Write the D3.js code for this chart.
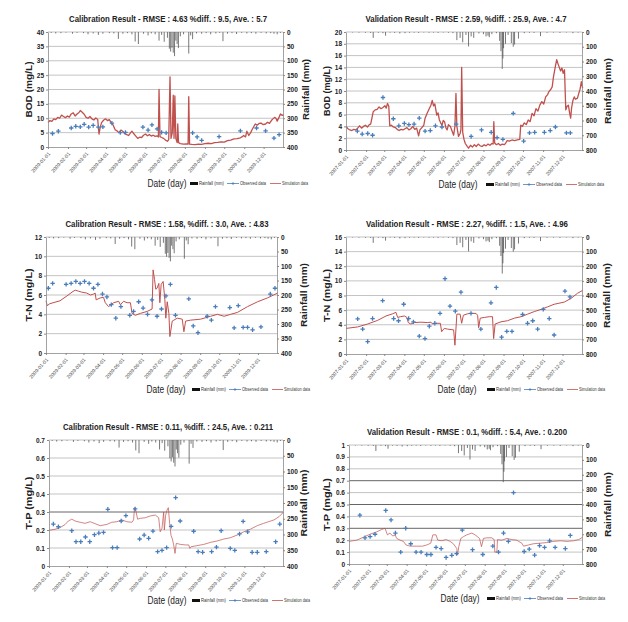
<!DOCTYPE html>
<html>
<head>
<meta charset="utf-8">
<script src="https://cdn.jsdelivr.net/npm/d3@7"></script>
<style>
  body { margin: 0; background: #fff; }
  text { font-family: "Liberation Sans", "DejaVu Sans", sans-serif; }
</style>
</head>
<body>
<script>
var svgWidth = 628;
var svgHeight = 622;

// rainfall, [day of year, mm]
var rain2009 = [[5,3],[12,5],[20,4],[28,2],[38,6],[45,3],[55,4],[62,8],[70,5],[78,10],[85,6],[95,4],[102,5],[109,24],[116,6],[123,4],[130,8],[135,33],[140,42],[148,6],[155,12],[160,5],[166,8],[172,30],[176,10],[180,34],[185,20],[188,58],[190,68],[192,55],[194,72],[196,84],[198,30],[200,42],[202,56],[205,15],[210,8],[218,75],[221,12],[224,25],[230,5],[238,6],[245,4],[252,8],[260,5],[266,3],[271,32],[278,6],[285,4],[292,7],[300,3],[308,5],[315,4],[322,6],[330,3],[338,5],[345,4],[350,6],[355,8],[360,3]];
var rain2007 = [[10,3],[20,4],[30,5],[38,6],[42,40],[50,5],[57,8],[61,25],[68,4],[75,6],[83,10],[91,8],[98,5],[105,4],[112,6],[120,3],[128,5],[135,4],[142,6],[150,3],[158,5],[165,8],[171,55],[176,40],[180,70],[185,20],[189,98],[193,30],[197,40],[205,10],[212,15],[216,30],[219,25],[221,35],[225,15],[232,8],[237,60],[239,130],[241,250],[242,180],[243,110],[246,80],[250,20],[255,75],[258,100],[260,85],[266,45],[275,8],[283,5],[290,6],[300,28],[310,5],[320,4],[330,6],[340,3],[350,8],[358,4]];

// BOD calibration 2009, [day, mg/L]
var bodCalSim = [[0,8.5],[3,9.2],[6,8.9],[9,9.8],[12,9.5],[15,10.3],[18,10.0],[21,11.1],[24,10.6],[27,10.2],[30,10.8],[33,10.4],[36,11.5],[39,11.9],[42,10.8],[45,11.5],[48,12.0],[50,12.7],[53,12.1],[56,11.4],[59,10.3],[62,10.0],[65,10.6],[68,9.8],[71,9.4],[74,10.1],[77,9.6],[79,4.5],[81,7.0],[83,8.5],[86,9.3],[89,9.8],[92,9.2],[95,9.5],[98,8.4],[101,7.6],[104,6.0],[107,5.6],[110,5.0],[113,5.9],[116,5.4],[119,4.6],[122,4.3],[125,4.0],[128,5.0],[130,5.5],[133,4.6],[136,3.8],[139,3.0],[142,3.4],[145,3.3],[148,4.1],[151,4.5],[154,3.9],[157,4.3],[160,3.8],[163,4.1],[166,3.7],[169,3.9],[171,3.5],[172,20],[173.5,3.6],[176,3.3],[179,3.0],[182,2.4],[185,2.0],[187,2.6],[189,24.4],[190.5,3.0],[192.5,5.0],[194,18],[195.2,3.0],[196.5,17.8],[198,3.0],[200,1.5],[201,8.0],[202.2,1.5],[205,1.2],[210,1.0],[215,1.1],[217,1.0],[218,17.5],[219.3,1.0],[223,0.9],[228,0.8],[233,1.0],[238,0.9],[243,1.2],[248,1.3],[253,1.2],[258,1.5],[263,1.6],[268,1.8],[273,1.7],[278,2.2],[283,2.4],[288,2.8],[293,2.9],[298,3.2],[301,3.6],[303,4.0],[306,3.5],[308,5.5],[311,4.0],[314,5.0],[316,6.0],[319,7.2],[321,8.0],[324,7.6],[327,8.2],[330,8.3],[333,7.8],[337,8.0],[340,8.6],[343,8.2],[346,9.2],[348,9.7],[351,10.3],[353,10.0],[355,9.0],[358,10.4],[360,11.5],[363,11.0],[365,11.2]];
var bodCalObs = [[7,4.7],[16,5.5],[36,6.6],[43,7.2],[50,7.0],[56,7.9],[63,6.9],[70,7.5],[78,6.9],[85,7.0],[99,8.3],[112,5.0],[120,5.1],[147,6.9],[155,5.9],[161,7.7],[169,6.3],[176,5.1],[183,4.9],[224,4.9],[231,3.5],[238,2.3],[265,3.6],[298,5.6],[323,6.6],[337,5.6],[350,3.1],[358,4.3]];

// BOD validation 2007
var bodValSim = [[0,4.0],[3,3.6],[6,3.4],[9,3.3],[12,3.5],[15,3.4],[18,3.7],[21,4.1],[24,3.7],[27,4.0],[30,4.2],[33,3.9],[36,4.3],[38,4.4],[40,5.4],[42,6.5],[45,6.8],[48,6.9],[51,7.3],[54,7.0],[57,7.2],[60,7.5],[62,7.1],[64,7.9],[66,7.4],[67.5,4.1],[70,4.2],[73,3.9],[76,3.8],[79,3.5],[82,3.3],[85,3.5],[88,3.4],[91,3.6],[94,3.8],[97,3.4],[100,3.6],[103,4.0],[106,3.5],[109,3.7],[112,2.4],[114,3.4],[117,3.8],[120,4.2],[122,5.4],[125,6.2],[128,6.9],[131,7.6],[133,8.4],[135,7.5],[137,7.8],[140,5.9],[142,6.3],[144,5.1],[146,4.6],[148,4.2],[150,5.0],[152,4.8],[154,3.8],[156,3.4],[158,4.3],[161,4.0],[163,3.4],[166,2.5],[168,4.0],[169.6,9.6],[171,4.0],[173.5,2.3],[176,2.8],[177.3,3.5],[178.4,14],[180,3.0],[182,1.8],[184,1.1],[187,0.6],[189,0.3],[192,0.8],[195,0.5],[198,0.9],[201,0.6],[204,1.0],[207,0.7],[210,0.6],[213,0.9],[216,0.7],[219,1.0],[222,0.8],[225,1.1],[227,1.0],[228,4.8],[229.3,1.2],[232,0.9],[235,1.1],[238,0.8],[241,1.0],[244,0.9],[246,1.1],[248.5,1.6],[252,1.5],[256,1.7],[260,1.6],[264,1.7],[268,1.8],[269.5,4.2],[272,4.0],[275,4.6],[278,4.3],[281,5.1],[284,4.8],[287,6.2],[290,5.8],[293,7.0],[296,6.6],[299,7.6],[302,8.2],[305,7.8],[308,9.0],[311,9.4],[313,9.9],[316,10.3],[318,10.7],[320,12.4],[323,14.2],[325,15.3],[327,14.6],[329,14.0],[331,13.4],[333,13.9],[335,13.0],[337,13.6],[339,6.8],[341,7.4],[343,7.6],[345,6.2],[346.5,5.4],[348,7.2],[350,8.4],[352,9.0],[354,8.6],[357,8.8],[359,9.6],[361,10.3],[363,11.6],[365,10.5]];
var bodValObs = [[17.5,3.2],[25,2.7],[33.5,2.8],[41,2.5],[57,8.9],[73,5.3],[81.5,4.1],[90,4.5],[97,4.3],[105,4.4],[113,5.4],[122,3.2],[130,3.3],[138,4.1],[148,3.9],[170,4.4],[193,2.3],[209,3.4],[224,3.0],[233,2.1],[242,1.8],[258,6.2],[274,1.5],[283,2.9],[291,3.0],[306,3.0],[315,3.3],[323,3.9],[340,2.9],[346,2.9]];

// T-N calibration 2009
var tnCalSim = [[0,5.4],[2,4.9],[6,5.1],[22,5.4],[33,5.9],[41,6.3],[46,6.5],[51,6.4],[56,6.3],[64,6.2],[70,6.0],[75,6.1],[77.5,6.2],[79,5.5],[85.5,5.7],[90.7,5.75],[93.4,5.2],[98.6,4.8],[106.6,5.2],[114.5,5.35],[117,5.0],[122.4,5.35],[127.7,5.2],[133,5.2],[135.6,4.1],[140.8,3.9],[148.8,4.1],[159.3,4.3],[167.2,4.55],[168.8,8.6],[171,7.6],[173,6.6],[175,6.7],[177.8,7.2],[179.4,5.2],[181.5,7.1],[184.6,7.4],[187.3,5.5],[188.8,3.6],[191,5.3],[193.6,4.1],[195.2,1.7],[198.9,3.3],[201.5,3.4],[206.8,3.6],[214.7,3.5],[217.3,2.2],[220,3.3],[228,3.4],[243.7,3.5],[259.5,3.8],[270,4.0],[280.6,3.8],[291,4.0],[301.7,4.2],[317.6,4.8],[333.4,5.3],[349,5.7],[365,6.2]];
var tnCalObs = [[3.7,6.7],[10.5,7.2],[31.7,7.1],[39.6,7.2],[47,7.4],[53.8,7.2],[60.7,7.4],[68,7.2],[74.9,6.7],[81.8,7.1],[89,6.1],[96,5.8],[102.9,5.0],[110,3.6],[118,4.8],[132,3.9],[138,4.3],[146,5.3],[153,4.65],[160,4.0],[167,5.5],[175,3.8],[182,4.55],[189,5.9],[196,7.1],[204,3.9],[225,5.6],[232,2.8],[239.5,2.1],[254,3.8],[260.6,3.4],[267,4.8],[289.6,4.7],[296.5,2.6],[303,4.9],[310.7,2.65],[317.6,2.65],[325.5,2.4],[338.7,2.7],[353.4,6.1],[360.8,6.7]];

// T-N validation 2007
var tnValSim = [[0,3.5],[18,3.7],[33.4,4.1],[48.8,4.6],[61.7,5.2],[72,5.5],[77,5.7],[79.7,5.0],[83.8,5.1],[90,5.2],[94,5.0],[96,4.3],[100,4.1],[105.4,4.3],[115.6,4.35],[126,4.3],[131,4.35],[133.6,4.1],[138.8,4.2],[145.5,4.2],[147.5,3.05],[151.6,3.5],[156.8,3.4],[166,3.3],[168,1.2],[171,5.45],[176,5.45],[178.4,4.2],[181,5.3],[187.6,5.5],[192.8,5.55],[200.5,5.55],[203,5.3],[204.6,3.6],[207,4.9],[213.3,5.0],[221,5.1],[226,5.1],[227.7,2.1],[230,4.1],[239,4.4],[249,4.55],[259.6,4.9],[270,5.1],[280,5.45],[290.4,5.8],[300.7,6.1],[311,6.45],[321,6.8],[336.7,7.1],[347,7.6],[357,8.3],[365,8.7]];
var tnValObs = [[18,4.8],[25.7,3.4],[33.4,1.7],[41,4.85],[56.5,7.3],[73.5,4.85],[81,4.55],[89,6.8],[96.6,4.85],[104,4.4],[113,2.45],[121.8,2.1],[128.5,3.8],[137,4.2],[145,5.55],[152.7,10.3],[160.4,6.55],[168.6,5.85],[177.3,8.45],[192.8,5.55],[208,3.4],[223.6,7.0],[231.8,9.1],[240,2.3],[248,3.1],[256,3.1],[272.4,5.4],[280,4.2],[288,4.55],[295.6,3.4],[304.3,6.1],[313.5,4.85],[321,2.6],[337.7,8.6],[345.4,7.8]];

// T-P calibration 2009
var tpCalSim = [[0,0.198],[9.4,0.204],[17,0.213],[25,0.23],[30,0.25],[35.4,0.26],[40.6,0.25],[48.4,0.243],[56,0.237],[64,0.246],[71.8,0.235],[79.6,0.224],[90,0.231],[97.8,0.243],[105.6,0.246],[113.4,0.256],[121,0.246],[129,0.243],[131.6,0.256],[133,0.324],[135,0.31],[137.8,0.26],[142,0.265],[149.8,0.268],[157.6,0.278],[165.4,0.283],[170.6,0.268],[173,0.19],[175.8,0.21],[178.4,0.30],[179.4,0.20],[181.5,0.283],[183.6,0.31],[185.6,0.324],[187.7,0.237],[189.8,0.17],[191.9,0.15],[194,0.117],[196,0.07],[198,0.126],[204.4,0.12],[212,0.117],[217.4,0.117],[219,0.098],[221,0.107],[230,0.113],[240.8,0.12],[251,0.131],[261.6,0.139],[272,0.15],[282,0.157],[292.8,0.172],[303,0.19],[313.6,0.205],[324,0.224],[334,0.237],[344.8,0.25],[350,0.256],[357.8,0.274],[365,0.30]];
var tpCalObs = [[6.8,0.233],[14.6,0.218],[35.4,0.196],[42,0.135],[49.4,0.135],[56.7,0.161],[63.4,0.135],[70.7,0.174],[77.5,0.183],[84.8,0.187],[91.5,0.315],[98.8,0.102],[106,0.102],[112.3,0.25],[119.6,0.28],[134,0.317],[141,0.15],[148,0.172],[155,0.154],[161.7,0.194],[169,0.08],[175.8,0.087],[183,0.102],[190,0.22],[197,0.38],[204,0.25],[225,0.193],[232,0.08],[239,0.076],[253,0.08],[260.5,0.105],[267.8,0.196],[282,0.098],[289,0.087],[296.4,0.178],[302,0.248],[309,0.19],[316,0.076],[324,0.076],[338,0.08],[352.6,0.135],[359,0.233]];

// T-P validation 2007
var tpValSim = [[0,0.19],[12,0.20],[22.4,0.225],[32.8,0.25],[43.3,0.27],[51,0.29],[56.3,0.30],[60,0.245],[64,0.26],[68.3,0.235],[72,0.245],[74.6,0.215],[79.8,0.20],[85,0.19],[89,0.16],[95.4,0.15],[105.8,0.15],[115,0.15],[121.5,0.16],[127.7,0.175],[131,0.245],[136,0.245],[138.7,0.20],[145,0.195],[151.7,0.205],[158,0.19],[163,0.17],[168.4,0.13],[169.5,0.075],[171.5,0.145],[174.7,0.215],[178.8,0.23],[184,0.245],[191.9,0.26],[197,0.245],[203.9,0.215],[207,0.145],[210,0.215],[215.3,0.22],[223,0.22],[226.8,0.205],[227.8,0.10],[231,0.10],[232,0.205],[238.8,0.20],[246.6,0.215],[254.4,0.205],[262,0.20],[270,0.175],[272.7,0.15],[280.5,0.16],[288,0.17],[298.8,0.175],[309,0.18],[319.6,0.19],[330,0.195],[340.5,0.19],[351,0.195],[358.7,0.205],[365,0.225]];
var tpValObs = [[17,0.41],[25,0.22],[33,0.23],[40.7,0.25],[57.4,0.45],[65.7,0.37],[72.5,0.26],[80.8,0.10],[88.6,0.30],[96.5,0.17],[104.8,0.10],[112.6,0.10],[121.5,0.08],[128,0.08],[136,0.14],[144,0.13],[151.7,0.055],[160.6,0.073],[168,0.087],[177,0.285],[193,0.12],[209,0.08],[224.7,0.15],[233.6,0.10],[241.4,0.26],[249,0.19],[257,0.60],[273.7,0.105],[281.6,0.125],[290,0.075],[297.7,0.155],[305.5,0.14],[313.4,0.195],[322,0.14],[338,0.13],[345.7,0.24]];

var titles = [
  "Calibration Result - RMSE : 4.63 %diff. : 9.5, Ave. : 5.7",
  "Validation Result - RMSE : 2.59, %diff. : 25.9, Ave. : 4.7",
  "Calibration Result - RMSE : 1.58, %diff. : 3.0, Ave. : 4.83",
  "Validation Result - RMSE : 2.27, %diff. : 1.5, Ave. : 4.96",
  "Calibration Result - RMSE : 0.11, %diff. : 24.5, Ave. : 0.211",
  "Validation Result - RMSE : 0.1, %diff. : 5.4, Ave. : 0.200"
];
var legendLabels = ["Rainfall (mm)", "Observed data", "Simulation data"];

var svg = d3.select("body").append("svg")
  .attr("width", svgWidth)
  .attr("height", svgHeight);

// layout of each panel: plot box [left, right, top, bottom]
var panels = [
  {title: titles[0], titleX: 168, titleW: 198, yLabel: "BOD (mg/L)", yLabelW: 56, yLabelX: 32, rLabelX: 309, rLabelW: 61,
   dateX: 167, dateY: 187, legX: 190, year: 2009, yMax: 40, yStep: 5, rMax: 400, rStep: 50,
   sim: bodCalSim, obs: bodCalObs, rain: rain2009, box: [48, 283, 32, 147], simW: 1.3, dark: []},
  {title: titles[1], titleX: 466, titleW: 201, yLabel: "BOD (mg/L)", yLabelW: 50, yLabelX: 330, rLabelX: 611, rLabelW: 66,
   dateX: 458, dateY: 188, legX: 486, year: 2007, yMax: 20, yStep: 2, rMax: 800, rStep: 100,
   sim: bodValSim, obs: bodValObs, rain: rain2007, box: [346, 582, 32, 150], simW: 1.3, dark: []},
  {title: titles[2], titleX: 167, titleW: 203, yLabel: "T-N (mg/L)", yLabelW: 53, yLabelX: 32, rLabelX: 307, rLabelW: 64,
   dateX: 166, dateY: 393, legX: 192, year: 2009, yMax: 12, yStep: 2, rMax: 400, rStep: 50,
   sim: tnCalSim, obs: tnCalObs, rain: rain2009, box: [46, 277, 237, 353], simW: 1.0, dark: []},
  {title: titles[3], titleX: 467, titleW: 202, yLabel: "T-N (mg/L)", yLabelW: 53, yLabelX: 330, rLabelX: 610, rLabelW: 65,
   dateX: 457, dateY: 393, legX: 487, year: 2007, yMax: 16, yStep: 2, rMax: 800, rStep: 100,
   sim: tnValSim, obs: tnValObs, rain: rain2007, box: [346, 582, 237, 354], simW: 1.0, dark: []},
  {title: titles[4], titleX: 168, titleW: 210, yLabel: "T-P (mg/L)", yLabelW: 53, yLabelX: 32, rLabelX: 307, rLabelW: 67,
   dateX: 167, dateY: 604, legX: 192, year: 2009, yMax: 0.7, yStep: 0.1, rMax: 400, rStep: 50,
   sim: tpCalSim, obs: tpCalObs, rain: rain2009, box: [49, 283, 440, 566], simW: 0.7, dark: [0.3]},
  {title: titles[5], titleX: 467, titleW: 200, yLabel: "T-P (mg/L)", yLabelW: 53, yLabelX: 330, rLabelX: 611, rLabelW: 65,
   dateX: 460, dateY: 602, legX: 487, year: 2007, yMax: 1, yStep: 0.1, rMax: 800, rStep: 100,
   sim: tpValSim, obs: tpValObs, rain: rain2007, box: [349, 582, 445, 564], simW: 0.7, dark: [0.3, 0.5, 0.7]}
];

function dayDate(year, day) {
  return new Date(+new Date(year, 0, 1) + day * 864e5);
}

function fmtNum(d) { return String(+d.toFixed(3)); }

function drawPanel(p) {
  var left = p.box[0], right = p.box[1], top = p.box[2], bottom = p.box[3];
  var g = svg.append("g");

  var x = d3.scaleTime()
    .domain([new Date(p.year, 0, 1), new Date(p.year, 11, 31)])
    .range([left, right]);
  var y = d3.scaleLinear().domain([0, p.yMax]).range([bottom, top]);
  var yr = d3.scaleLinear().domain([0, p.rMax]).range([top, bottom]);

  var yTicks = d3.range(0, p.yMax + p.yStep / 2, p.yStep).map(function (d) { return +d.toFixed(3); });
  var rTicks = d3.range(0, p.rMax + 1, p.rStep);

  // gridlines
  g.append("g").selectAll("line")
    .data(yTicks.slice(1)).enter()
    .append("line")
    .attr("x1", left).attr("x2", right)
    .attr("y1", function (d) { return y(d); })
    .attr("y2", function (d) { return y(d); })
    .attr("stroke", function (d) { return p.dark.indexOf(d) >= 0 ? "#555" : "#ababab"; })
    .attr("stroke-width", function (d) { return p.dark.indexOf(d) >= 0 ? 0.9 : 0.7; });

  // rainfall bars hanging from the top
  g.append("g").selectAll("line")
    .data(p.rain).enter()
    .append("line")
    .attr("x1", function (d) { return x(dayDate(p.year, d[0])); })
    .attr("x2", function (d) { return x(dayDate(p.year, d[0])); })
    .attr("y1", yr(0))
    .attr("y2", function (d) { return yr(d[1]); })
    .attr("stroke", "#555")
    .attr("stroke-width", 0.8);

  // simulation
  var line = d3.line()
    .x(function (d) { return x(dayDate(p.year, d[0])); })
    .y(function (d) { return y(d[1]); });
  g.append("path")
    .datum(p.sim)
    .attr("d", line)
    .attr("fill", "none")
    .attr("stroke", "#c0504d")
    .attr("stroke-width", p.simW)
    .attr("stroke-linejoin", "round");

  // observed
  g.append("g").selectAll("path")
    .data(p.obs).enter()
    .append("path")
    .attr("transform", function (d) { return "translate(" + x(dayDate(p.year, d[0])) + "," + y(d[1]) + ")"; })
    .attr("d", "M-2.2,0H2.2M0,-2.2V2.2")
    .attr("stroke", "#4a7ebb")
    .attr("stroke-width", 1.3);

  // axes
  var leftAxis = d3.axisLeft(y).tickValues(yTicks).tickFormat(fmtNum).tickSize(2).tickSizeOuter(0);
  var rightAxis = d3.axisRight(yr).tickValues(rTicks).tickSize(2).tickSizeOuter(0);
  var bottomAxis = d3.axisBottom(x)
    .tickValues(d3.timeMonth.range(new Date(p.year, 0, 1), new Date(p.year, 11, 2)))
    .tickFormat(d3.timeFormat("%Y-%m-%d"))
    .tickSize(2).tickSizeOuter(0);

  var la = g.append("g").attr("transform", "translate(" + left + ",0)").call(leftAxis);
  var ra = g.append("g").attr("transform", "translate(" + right + ",0)").call(rightAxis);
  var ba = g.append("g").attr("transform", "translate(0," + bottom + ")").call(bottomAxis);

  [la, ra, ba].forEach(function (a) {
    a.attr("font-family", null);
    a.select(".domain").attr("stroke", "#8a8a8a").attr("stroke-width", 0.8);
    a.selectAll(".tick line").attr("stroke", "#8a8a8a");
  });
  la.selectAll("text").attr("font-size", 6.5).attr("font-weight", "bold").attr("fill", "#222").attr("x", -4);
  ra.selectAll("text").attr("font-size", 6.5).attr("font-weight", "bold").attr("fill", "#222").attr("x", 4);
  ba.selectAll("text")
    .attr("font-size", 5)
    .attr("fill", "#444")
    .attr("text-anchor", "end")
    .attr("dy", 0)
    .attr("y", 0)
    .attr("transform", "translate(2,7) rotate(-48)");

  // title
  g.append("text")
    .attr("x", p.titleX).attr("y", top - 10)
    .attr("text-anchor", "middle")
    .attr("font-size", 9.5).attr("font-weight", "bold").attr("fill", "#222")
    .attr("textLength", p.titleW).attr("lengthAdjust", "spacingAndGlyphs")
    .text(p.title);

  // y labels
  g.append("text")
    .attr("transform", "translate(" + p.yLabelX + "," + ((top + bottom) / 2) + ") rotate(-90)")
    .attr("text-anchor", "middle")
    .attr("font-size", 9).attr("font-weight", "bold").attr("fill", "#222")
    .attr("textLength", p.yLabelW).attr("lengthAdjust", "spacingAndGlyphs")
    .text(p.yLabel);
  g.append("text")
    .attr("transform", "translate(" + p.rLabelX + "," + ((top + bottom) / 2) + ") rotate(-90)")
    .attr("text-anchor", "middle")
    .attr("font-size", 9).attr("font-weight", "bold").attr("fill", "#222")
    .attr("textLength", p.rLabelW).attr("lengthAdjust", "spacingAndGlyphs")
    .text("Rainfall (mm)");

  // x label and legend
  g.append("text")
    .attr("x", p.dateX).attr("y", p.dateY)
    .attr("text-anchor", "middle")
    .attr("font-size", 10).attr("fill", "#222")
    .attr("textLength", 39).attr("lengthAdjust", "spacingAndGlyphs")
    .text("Date (day)");

  var leg = g.append("g").attr("transform", "translate(" + p.legX + "," + (p.dateY - 3.5) + ")");
  leg.append("rect").attr("x", 0).attr("y", -1.5).attr("width", 8).attr("height", 3).attr("fill", "#111");
  leg.append("line").attr("x1", 37).attr("x2", 49).attr("y1", 0).attr("y2", 0).attr("stroke", "#4a7ebb").attr("stroke-width", 0.8);
  leg.append("path").attr("d", "M41.5,0H44.5M43,-1.5V1.5").attr("stroke", "#4a7ebb").attr("stroke-width", 0.8);
  leg.append("line").attr("x1", 80).attr("x2", 91).attr("y1", 0).attr("y2", 0).attr("stroke", "#c0504d").attr("stroke-width", 0.8);
  leg.selectAll("text.lg").data(legendLabels).enter()
    .append("text").attr("class", "lg")
    .attr("x", function (d, i) { return [9, 50, 92][i]; })
    .attr("y", 1.5)
    .attr("font-size", 4.5).attr("fill", "#333")
    .attr("textLength", function (d, i) { return [25, 26, 26][i]; })
    .attr("lengthAdjust", "spacingAndGlyphs")
    .text(function (d) { return d; });
}

panels.forEach(drawPanel);
</script>
</body>
</html>
